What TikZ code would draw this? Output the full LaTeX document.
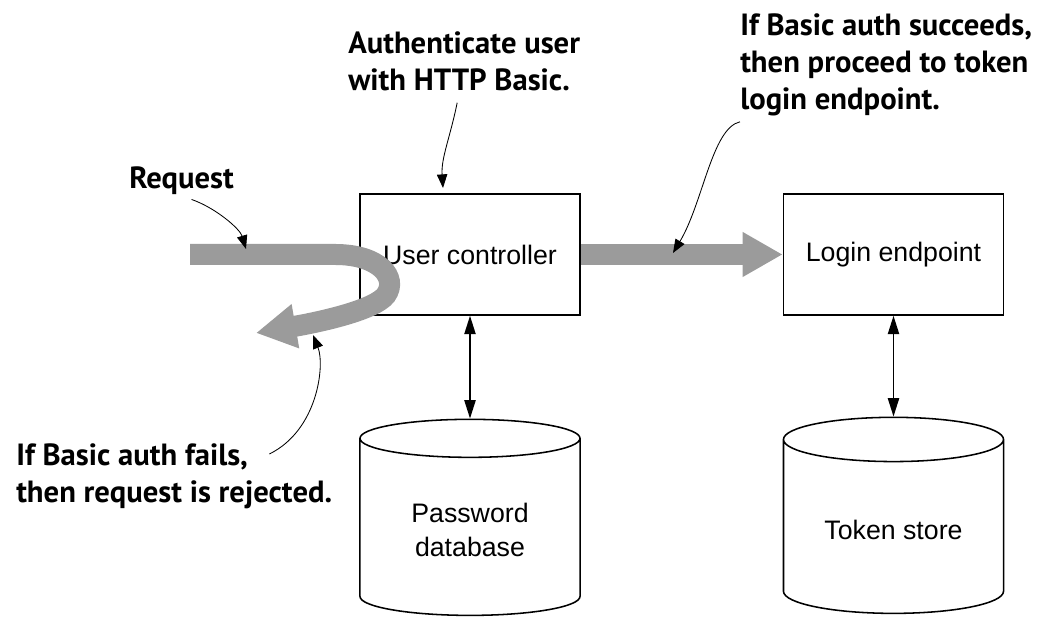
\documentclass[tikz,border=0pt]{standalone}
\usepackage{fontspec}
\setmainfont{Liberation Sans}
\newfontfamily\notefont{PT Sans}
\usetikzlibrary{arrows.meta,shapes.geometric,calc}
\definecolor{flowgray}{RGB}{155,155,155}
\begin{document}
\begin{tikzpicture}[x=0.025cm,y=0.025cm,
  box/.style={draw,line width=1.1pt,minimum width=5.5cm,minimum height=3.025cm,font=\fontsize{19}{24}\selectfont},
  store/.style={draw,line width=1.1pt,cylinder,shape border rotate=90,aspect=0.3,minimum width=5.5cm,minimum height=4.9cm,align=center,font=\fontsize{19}{24}\selectfont},
  note/.style={anchor=north west,inner sep=0pt,align=left,font=\notefont\bfseries\fontsize{21.8}{26.3}\selectfont},
  pointer/.style={line width=0.6pt,-{Triangle[length=3.4mm,width=2.6mm]}},
  link/.style={line width=1.2pt,{Triangle[length=4.6mm,width=2.8mm]}-{Triangle[length=4.6mm,width=2.8mm]}},
  flow/.style={flowgray,line width=0.525cm,-{Triangle[length=1cm,width=1.05cm]}}]

\useasboundingbox (0,0) rectangle (1054,628);

% boxes and stores
\node[box] (userctl) at (470,373.5) {User controller};
\node[box] (login) at (893.5,373.5) {Login endpoint};
\node[store] (pwdb) at (470,98) {Password\\database};
\node[store] (tokens) at (893.5,98) {Token store};

\draw[link] (userctl) -- (pwdb);
\draw[link] (login) -- (tokens);

% request flow
\coordinate (reqin) at (190,373.5);
\coordinate (reject) at (256,295);
\draw[flow] (userctl.east) -- (login.west);
\draw[flow] (reqin) -- (335,373.5) .. controls (380,373.5) and (398,350) .. (386,333)
  .. controls (375,318) and (320,306) .. (reject);

% notes
\node[note] (reqtxt) at (129,462) {Request};
\node[note] (authtxt) at (348,597) {Authenticate user\\with HTTP Basic.};
\node[note] (oktxt) at (740,615) {If Basic auth succeeds,\\then proceed to token\\login endpoint.};
\node[note] (failtxt) at (16,185) {If Basic auth fails,\\then request is rejected.};

\coordinate (reqtip) at (246,379);
\coordinate (authtip) at (443,440);
\coordinate (oktip) at (673,375);
\coordinate (failtip) at (313,293);
\draw[pointer] ($(reqtxt.south)+(10,-5)$) .. controls (216,420) and (240,399) .. (reqtip);
\draw[pointer] ($(authtxt.south)+(-7,-12)$) .. controls (450,490) and (441,470) .. (authtip);
\draw[pointer] ($(oktxt.south west)+(0,-6)$) .. controls (712,500) and (703,425) .. (oktip);
\draw[pointer] ($(failtxt.north east)+(-63,-11)$) .. controls (318,198) and (325,263) .. (failtip);

\end{tikzpicture}
\end{document}
